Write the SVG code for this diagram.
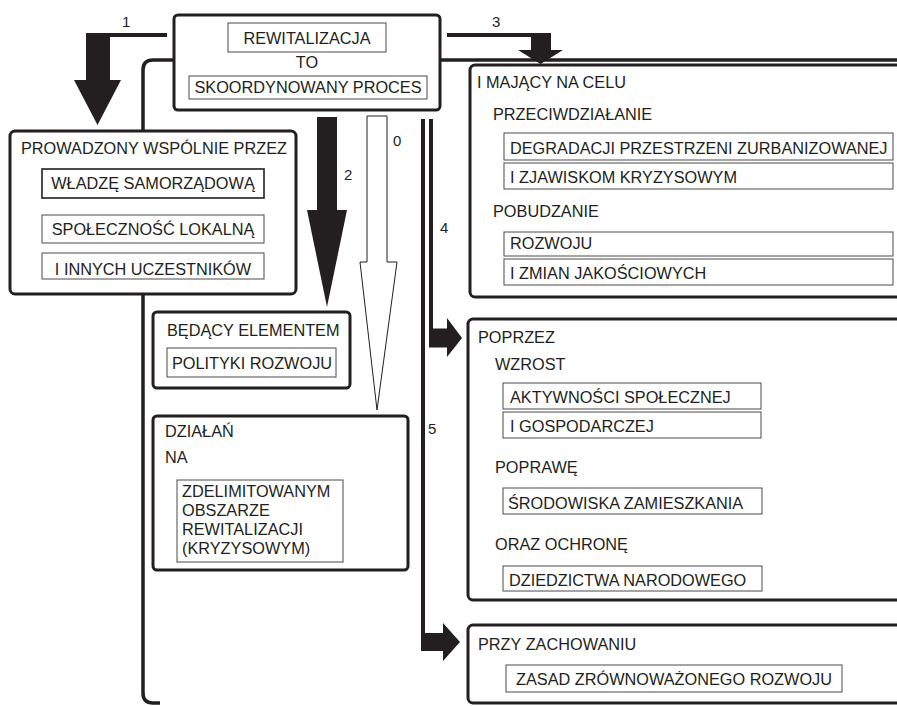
<svg xmlns="http://www.w3.org/2000/svg" width="897" height="706" viewBox="0 0 897 706">
<style>
  text { font-family: "Liberation Sans", Arial, sans-serif; font-size: 16.3px; fill: #231f20; }
  .lbl { font-size: 15px; }
  .mid { text-anchor: middle; }
  .box { fill: #ffffff; stroke: #231f20; stroke-width: 3; }
  .inner { fill: #ffffff; stroke: #4a4a4a; stroke-width: 1; }
  .innerb { fill: #ffffff; stroke: #231f20; stroke-width: 1.6; }
  .solid { fill: #231f20; stroke: none; }
  .hollow { fill: #ffffff; stroke: #231f20; stroke-width: 1; }
  .frame { fill: none; stroke: #231f20; stroke-width: 3.5; }
</style>
<rect width="897" height="706" fill="#ffffff"/>
<g id="connectors">
  <path class="frame" d="M897,60 H153 Q143,60 143,70 V693 Q143,703 153,703 H160"/>
  <path id="c1" class="solid" d="M167,33 H86 V80 H74 L97.5,125 L121,80 H110 V37 H167 Z"/>
  <text class="lbl" x="122" y="27">1</text>
  <path id="c3" class="solid" d="M447,33 H551 V50 H563 L540.5,64 L518,50 H531 V37 H447 Z"/>
  <text class="lbl" x="492" y="27">3</text>
  <path id="c2" class="solid" d="M317,117 H337 V210 H347 L327,307 L307,210 H317 Z"/>
  <text class="lbl" x="344" y="180">2</text>
  <path id="c0" class="hollow" d="M367,116 H387 V262 H397 L377,410 L360,262 H367 Z"/>
  <text class="lbl" x="393" y="146">0</text>
  <path id="c4" class="solid" d="M429,119 H433 V328.5 H447 V318 L462,338 L447,357 V347.5 H429 Z"/>
  <text class="lbl" x="440" y="233">4</text>
  <path id="c5" class="solid" d="M421,119 H425 V633 H443 V623 L460,642 L443,661 V651 H421 Z"/>
  <text class="lbl" x="428" y="434">5</text>
</g>
<g id="node-rewitalizacja">
  <rect class="box" x="174" y="15" width="266" height="95" rx="4"/>
  <rect class="inner" x="228" y="23" width="158" height="29"/>
  <text class="mid" x="307" y="44">REWITALIZACJA</text>
  <text class="mid" x="307" y="68">TO</text>
  <rect class="inner" x="189" y="76" width="238" height="23"/>
  <text class="mid" x="308" y="93">SKOORDYNOWANY PROCES</text>
</g>
<g id="node-prowadzony">
  <rect class="box" x="10" y="131" width="286" height="163" rx="5"/>
  <text x="21" y="154">PROWADZONY WSPÓLNIE PRZEZ</text>
  <rect class="innerb" x="42" y="169" width="222" height="29"/>
  <text class="mid" x="153" y="189">WŁADZĘ SAMORZĄDOWĄ</text>
  <rect class="inner" x="42" y="215" width="222" height="28"/>
  <text class="mid" x="153" y="235">SPOŁECZNOŚĆ LOKALNĄ</text>
  <rect class="inner" x="42" y="253" width="222" height="26"/>
  <text class="mid" x="153" y="275">I INNYCH UCZESTNIKÓW</text>
</g>
<g id="node-majacy">
  <rect class="box" x="470" y="65" width="440" height="232" rx="5"/>
  <text x="477" y="88">I MAJĄCY NA CELU</text>
  <text x="493" y="120">PRZECIWDZIAŁANIE</text>
  <rect class="inner" x="504" y="133" width="389" height="27"/>
  <text x="510" y="154">DEGRADACJI PRZESTRZENI ZURBANIZOWANEJ</text>
  <rect class="inner" x="504" y="163" width="389" height="26"/>
  <text x="510" y="183">I ZJAWISKOM KRYZYSOWYM</text>
  <text x="493" y="217">POBUDZANIE</text>
  <rect class="inner" x="504" y="232" width="389" height="24"/>
  <text x="510" y="249">ROZWOJU</text>
  <rect class="inner" x="504" y="259" width="389" height="26"/>
  <text x="510" y="279">I ZMIAN JAKOŚCIOWYCH</text>
</g>
<g id="node-bedacy">
  <rect class="box" x="153" y="312" width="197" height="76" rx="4"/>
  <text x="167" y="336">BĘDĄCY ELEMENTEM</text>
  <rect class="inner" x="167" y="348" width="169" height="29"/>
  <text class="mid" x="252" y="369">POLITYKI ROZWOJU</text>
</g>
<g id="node-dzialan">
  <rect class="box" x="153" y="416" width="255" height="154" rx="4"/>
  <text x="165" y="437">DZIAŁAŃ</text>
  <text x="165" y="463">NA</text>
  <rect class="inner" x="177" y="480" width="166" height="82"/>
  <text x="182" y="497">ZDELIMITOWANYM</text>
  <text x="182" y="516">OBSZARZE</text>
  <text x="182" y="535">REWITALIZACJI</text>
  <text x="182" y="554">(KRYZYSOWYM)</text>
</g>
<g id="node-poprzez">
  <rect class="box" x="468" y="319" width="440" height="281" rx="5"/>
  <text x="478" y="343">POPRZEZ</text>
  <text x="495" y="370">WZROST</text>
  <rect class="inner" x="503" y="383" width="258" height="26"/>
  <text x="510" y="403">AKTYWNOŚCI SPOŁECZNEJ</text>
  <rect class="inner" x="503" y="412" width="258" height="26"/>
  <text x="510" y="432">I GOSPODARCZEJ</text>
  <text x="495" y="473">POPRAWĘ</text>
  <rect class="inner" x="503" y="488" width="259" height="26"/>
  <text x="508" y="509">ŚRODOWISKA ZAMIESZKANIA</text>
  <text x="495" y="550">ORAZ OCHRONĘ</text>
  <rect class="inner" x="503" y="566" width="259" height="25"/>
  <text x="509" y="586">DZIEDZICTWA NARODOWEGO</text>
</g>
<g id="node-przy">
  <rect class="box" x="468" y="625" width="440" height="78" rx="5"/>
  <text x="478" y="650">PRZY ZACHOWANIU</text>
  <rect class="inner" x="506" y="665" width="336" height="27"/>
  <text class="mid" x="674" y="685">ZASAD ZRÓWNOWAŻONEGO ROZWOJU</text>
</g>
</svg>
